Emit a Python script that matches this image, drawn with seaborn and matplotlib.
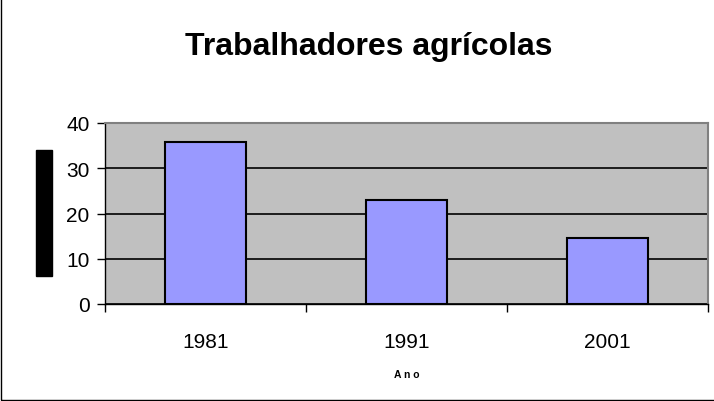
import matplotlib.pyplot as plt
import matplotlib.patches as mpatches
import pandas as pd
import seaborn as sns

# data
anos = ['1981', '1991', '2001']
valores = [35.7, 23.0, 14.5]
yticks = [0, 10, 20, 30, 40]

df = pd.DataFrame({'Ano': anos, 'valor': valores})

sns.set_style('white')
plt.rcParams['font.family'] = ['Liberation Sans', 'DejaVu Sans']
plt.rcParams['text.color'] = 'black'
plt.rcParams['axes.labelcolor'] = 'black'
plt.rcParams['xtick.color'] = 'black'
plt.rcParams['ytick.color'] = 'black'

fig = plt.figure(figsize=(7.14, 4.02), dpi=100)
ax = fig.add_axes([105 / 714, 97 / 402, 603 / 714, 181 / 402])
ax.set_facecolor('#C0C0C0')

sns.barplot(df, x='Ano', y='valor', color='#9999FF', edgecolor='black',
            linewidth=1.5, width=0.4, saturation=1, ax=ax, zorder=3)

ax.set_ylim(0, 40)
ax.set_xlim(-0.5, 2.5)
ax.set_yticks(yticks)
ax.yaxis.grid(True, color='black', linewidth=1.2, zorder=1)
ax.set_axisbelow(True)

# ticks at category borders
ax.set_xticks([-0.5, 0.5, 1.5, 2.5], minor=True)
ax.tick_params(axis='x', which='major', length=0, labelsize=15, pad=20)
ax.tick_params(axis='x', which='minor', length=6, width=1, color='black',
               direction='out', bottom=True)
ax.tick_params(axis='y', length=6, width=1, color='black', direction='out',
               left=True, labelsize=15, pad=5)

for s in ['left', 'bottom']:
    ax.spines[s].set_color('black')
    ax.spines[s].set_linewidth(1)
for s in ['top', 'right']:
    ax.spines[s].set_color('#808080')
    ax.spines[s].set_linewidth(1.5)

ax.set_ylabel('')
ax.set_xlabel('A n o', fontsize=7.5, fontweight='bold', labelpad=13)

fig.text(369 / 714, 1 - 55 / 402, 'Trabalhadores agrícolas', fontsize=23,
         fontweight='bold', ha='center', va='baseline')

# y label (rendered as black block in the original)
fig.text(44 / 714, 1 - 214 / 402, '(%) da população activa', rotation=90,
         ha='center', va='center', fontsize=8, color='black',
         bbox=dict(boxstyle='square,pad=0.25', fc='black', ec='black'))

# outer chart border
fig.patches.append(mpatches.Rectangle((0.5 / 714, 1.5 / 402), 1.2, 1.2,
                                      transform=fig.transFigure, fill=False,
                                      edgecolor='black', linewidth=1))

fig.savefig('out.png', dpi=100)
